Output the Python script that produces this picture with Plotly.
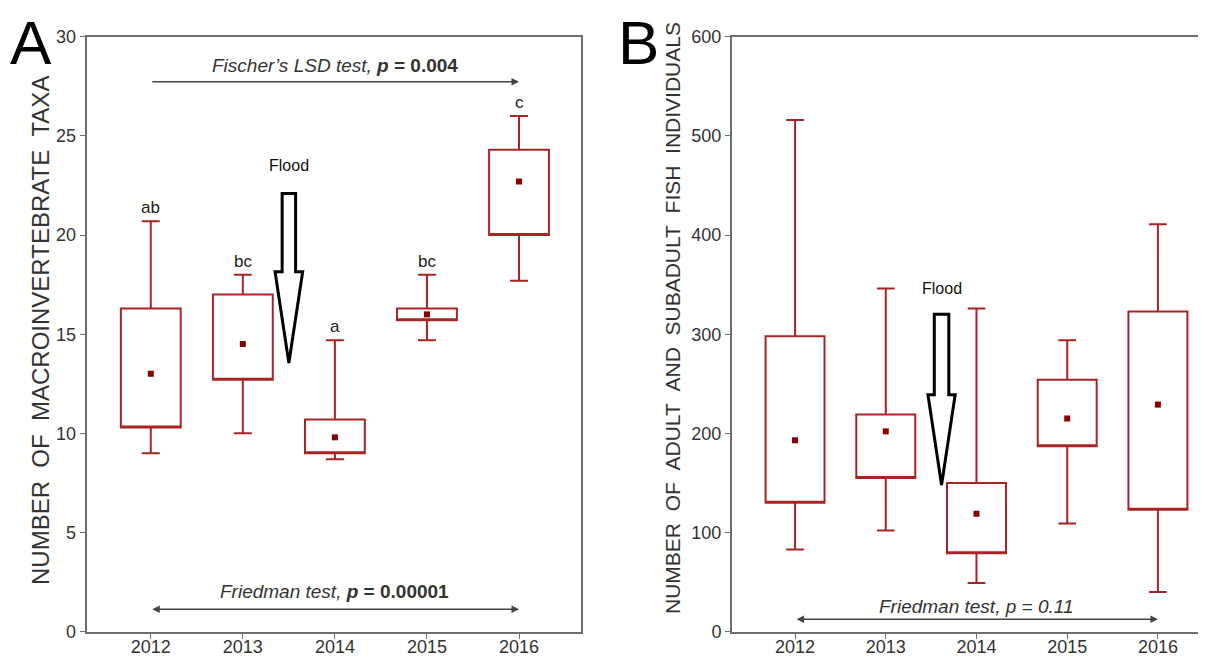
import plotly.graph_objects as go

years = ["2012", "2013", "2014", "2015", "2016"]
xpos = [0, 1, 2, 3, 4]

# Panel A: macroinvertebrate taxa
a_low = [9.0, 10.0, 8.7, 14.7, 17.7]
a_q1 = [10.3, 12.7, 9.0, 15.7, 20.0]
a_q3 = [16.3, 17.0, 10.7, 16.3, 24.3]
a_high = [20.7, 18.0, 14.7, 18.0, 26.0]
a_mean = [13.0, 14.5, 9.8, 16.0, 22.7]
a_letters = ["ab", "bc", "a", "bc", "c"]

# Panel B: adult and subadult fish individuals
b_low = [83, 102, 49, 109, 40]
b_q1 = [130, 155, 79, 187, 123]
b_q3 = [298, 219, 150, 254, 323]
b_high = [516, 346, 326, 294, 411]
b_mean = [193, 202, 119, 215, 229]

BOX_COLOR = "#a82424"
MEAN_COLOR = "#8b0000"
AXIS_COLOR = "#6e6e6e"
TEXT_COLOR = "#333333"
FONT = "Liberation Sans, Arial, sans-serif"

# page body has an 8px default margin; lay the figure out in screen pixels
OFF = 8
W, H = 1206 - OFF, 657 - OFF

def px(x):
    return (x - OFF) / W

def py(y):
    return 1 - (y - OFF) / H

fig = go.Figure()

def add_panel(xa, ya, low, q1, q3, high, mean):
    fig.add_trace(go.Box(
        x=xpos, q1=q1, median=q1, q3=q3, lowerfence=low, upperfence=high,
        width=0.65, whiskerwidth=0.3, boxpoints=False,
        line=dict(color=BOX_COLOR, width=2), fillcolor="rgba(255,255,255,0)",
        xaxis=xa, yaxis=ya, showlegend=False, hoverinfo="skip"))
    fig.add_trace(go.Scatter(
        x=xpos, y=mean, mode="markers",
        marker=dict(symbol="square", size=6, color=MEAN_COLOR),
        xaxis=xa, yaxis=ya, showlegend=False, hoverinfo="skip"))

add_panel("x", "y", a_low, a_q1, a_q3, a_high, a_mean)
add_panel("x2", "y2", b_low, b_q1, b_q3, b_high, b_mean)

tickfont = dict(family=FONT, size=18, color=TEXT_COLOR)
common_x = dict(tickmode="array", tickvals=xpos, ticktext=years, ticks="outside",
                ticklen=5, tickcolor=AXIS_COLOR, showline=True, linecolor=AXIS_COLOR,
                linewidth=2, showgrid=False, zeroline=False, tickfont=tickfont, automargin=False,
                ticklabelstandoff=-7)
common_y = dict(ticks="outside", ticklen=5, tickcolor=AXIS_COLOR, showline=True,
                linecolor=AXIS_COLOR, linewidth=2, showgrid=False, zeroline=False,
                tickfont=tickfont, automargin=False)

ydom = [py(631.7), py(36.7)]
fig.update_layout(
    width=W, height=H, margin=dict(l=0, r=0, t=0, b=0, autoexpand=False),
    paper_bgcolor="white", plot_bgcolor="white",
    xaxis=dict(domain=[px(86.7), px(580.7)], range=[-0.696, 4.67], mirror=True, **common_x),
    yaxis=dict(domain=ydom, range=[0, 30], tickvals=[0, 5, 10, 15, 20, 25, 30],
               mirror=True, **common_y),
    xaxis2=dict(domain=[px(732), 1.0], range=[-0.695, 4.53], anchor="y2", mirror=True, **common_x),
    yaxis2=dict(domain=ydom, range=[0, 600], anchor="x2",
                tickvals=[0, 100, 200, 300, 400, 500, 600], **common_y),
)

ann = []
# panel letters
ann.append(dict(text="A", xref="paper", yref="paper", x=px(8), y=py(6), xanchor="left",
                yanchor="top", showarrow=False, font=dict(family=FONT, size=62, color="black")))
ann.append(dict(text="B", xref="paper", yref="paper", x=px(616), y=py(6), xanchor="left",
                yanchor="top", showarrow=False, font=dict(family=FONT, size=62, color="black")))
# axis titles
sp = "\u00a0\u00a0"
ann.append(dict(text=sp.join(["NUMBER", "OF", "MACROINVERTEBRATE", "TAXA"]), xref="paper", yref="paper",
                x=px(41), y=py(331), xanchor="center", yanchor="middle", textangle=-90, showarrow=False,
                font=dict(family=FONT, size=24, color=TEXT_COLOR)))
ann.append(dict(text=sp.join(["NUMBER", "OF", "ADULT", "AND", "SUBADULT", "FISH", "INDIVIDUALS"]),
                xref="paper", yref="paper", x=px(673), y=py(318), xanchor="center", yanchor="middle",
                textangle=-90, showarrow=False,
                font=dict(family=FONT, size=21, color=TEXT_COLOR)))
# significance letters
for xi, lab, hi in zip(xpos, a_letters, a_high):
    ann.append(dict(text=lab, x=xi, y=hi, xref="x", yref="y", yanchor="bottom", yshift=2,
                    showarrow=False, font=dict(family=FONT, size=17, color="#222222")))
# test arrows panel A
ann.append(dict(x=4, y=27.73, ax=0, ay=27.73, xref="x", yref="y", axref="x", ayref="y", text="",
                showarrow=True, arrowhead=2, arrowsize=1, arrowwidth=1.5, arrowcolor="#444444"))
ann.append(dict(text="<i>Fischer\u2019s LSD test,</i> <b><i>p</i> = 0.004</b>", x=2, y=28.57, xref="x",
                yref="y", showarrow=False, font=dict(family=FONT, size=19, color=TEXT_COLOR)))
ann.append(dict(x=4, y=1.13, ax=0, ay=1.13, xref="x", yref="y", axref="x", ayref="y", text="",
                showarrow=True, arrowhead=2, startarrowhead=2, arrowside="end+start", arrowsize=1,
                arrowwidth=1.5, arrowcolor="#444444"))
ann.append(dict(text="<i>Friedman test,</i> <b><i>p</i> = 0.00001</b>", x=2, y=2.05, xref="x",
                yref="y", showarrow=False, font=dict(family=FONT, size=19, color=TEXT_COLOR)))
# test arrow panel B
ann.append(dict(x=4, y=12.5, ax=0, ay=12.5, xref="x2", yref="y2", axref="x2", ayref="y2", text="",
                showarrow=True, arrowhead=2, startarrowhead=2, arrowside="end+start", arrowsize=1,
                arrowwidth=1.5, arrowcolor="#444444"))
ann.append(dict(text="<i>Friedman test, p = 0.11</i>", x=2, y=25.5, xref="x2",
                yref="y2", showarrow=False, font=dict(family=FONT, size=19, color=TEXT_COLOR)))

# Flood labels and hollow arrows
flood_a = dict(x=1.5, top=22.1, neck=18.15, tip=13.55, shaft=0.073, head=0.15, label_y=23.5)
flood_b = dict(x=1.615, top=320, neck=239, tip=148, shaft=0.08, head=0.15, label_y=346)

shapes = []
for f, xr, yr in [(flood_a, "x", "y"), (flood_b, "x2", "y2")]:
    c = f["x"]
    path = (f"M {c - f['shaft']},{f['top']} L {c + f['shaft']},{f['top']} "
            f"L {c + f['shaft']},{f['neck']} L {c + f['head']},{f['neck']} "
            f"L {c},{f['tip']} L {c - f['head']},{f['neck']} "
            f"L {c - f['shaft']},{f['neck']} Z")
    shapes.append(dict(type="path", path=path, xref=xr, yref=yr,
                       line=dict(color="black", width=3), fillcolor="white"))
    ann.append(dict(text="Flood", x=c, y=f["label_y"], xref=xr, yref=yr, showarrow=False,
                    font=dict(family=FONT, size=16, color="#111111")))

fig.update_layout(annotations=ann, shapes=shapes)
fig.write_html("out.html")
